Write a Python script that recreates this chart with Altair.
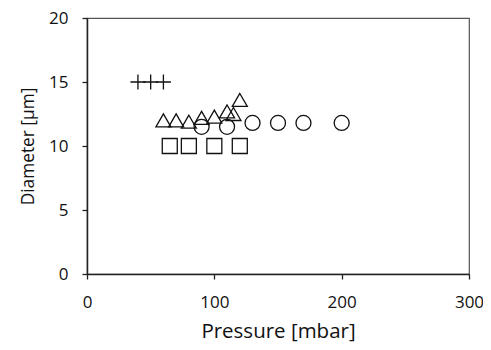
import altair as alt
import pandas as pd

# Series data
plus_x = [40, 50, 60]
plus_y = [15, 15, 15]

tri_x = [60, 70, 80, 90, 100, 110, 115, 120]
tri_y = [12.0, 12.0, 11.9, 12.2, 12.3, 12.7, 12.5, 13.6]

circ_x = [90, 110, 130, 150, 170, 200]
circ_y = [11.5, 11.5, 11.8, 11.8, 11.8, 11.8]

sq_x = [65, 80, 100, 120]
sq_y = [10, 10, 10, 10]

x_ticks = [0, 100, 200, 300]
y_ticks = [0, 5, 10, 15, 20]

rows = []
for name, xs, ys in [("plus", plus_x, plus_y), ("triangle", tri_x, tri_y),
                     ("circle", circ_x, circ_y), ("square", sq_x, sq_y)]:
    for x, y in zip(xs, ys):
        rows.append({"series": name, "pressure": x, "diameter": y})
df = pd.DataFrame(rows)

FONT = "Open Sans"

chart = alt.Chart(df).mark_point(
    filled=False, stroke="#111", strokeWidth=1.3, size=225, opacity=1
).encode(
    x=alt.X("pressure:Q",
            scale=alt.Scale(domain=[0, 300], nice=False, zero=True),
            axis=alt.Axis(values=x_ticks, title="Pressure [mbar]", grid=False,
                          tickSize=5, labelPadding=28, labelBaseline="alphabetic",
                          titleY=63, titleBaseline="alphabetic", titleFontSize=20.5,
                          labelFlush=False)),
    y=alt.Y("diameter:Q",
            scale=alt.Scale(domain=[0, 20], nice=False),
            axis=alt.Axis(values=y_ticks, title="Diameter [µm]", grid=False,
                          tickSize=5, labelPadding=14,
                          titleX=-54, titleY=128, titleAngle=-90, titleFontSize=17.3,
                          titleAlign="center", titleBaseline="alphabetic")),
    shape=alt.Shape("series:N",
                    scale=alt.Scale(domain=["plus", "triangle", "circle", "square"],
                                    range=["M-1,0H1M0,-1V1", "triangle-up", "circle", "square"]),
                    legend=None),
).properties(
    width=382,
    height=256,
    padding={"left": 79, "top": 10, "right": 14, "bottom": 68},
    autosize=alt.AutoSizeParams(type="none"),
    background="white",
).configure_view(
    stroke="#555", strokeWidth=1.2
).configure_axis(
    domainColor="#222", domainWidth=1.5, tickColor="#222", tickWidth=1.3,
    labelFont=FONT, labelFontSize=17, labelColor="#111",
    titleFont=FONT, titleColor="#111", titleFontWeight="normal",
)

chart.save("out.html", embed_options={"renderer": "svg", "actions": False})
